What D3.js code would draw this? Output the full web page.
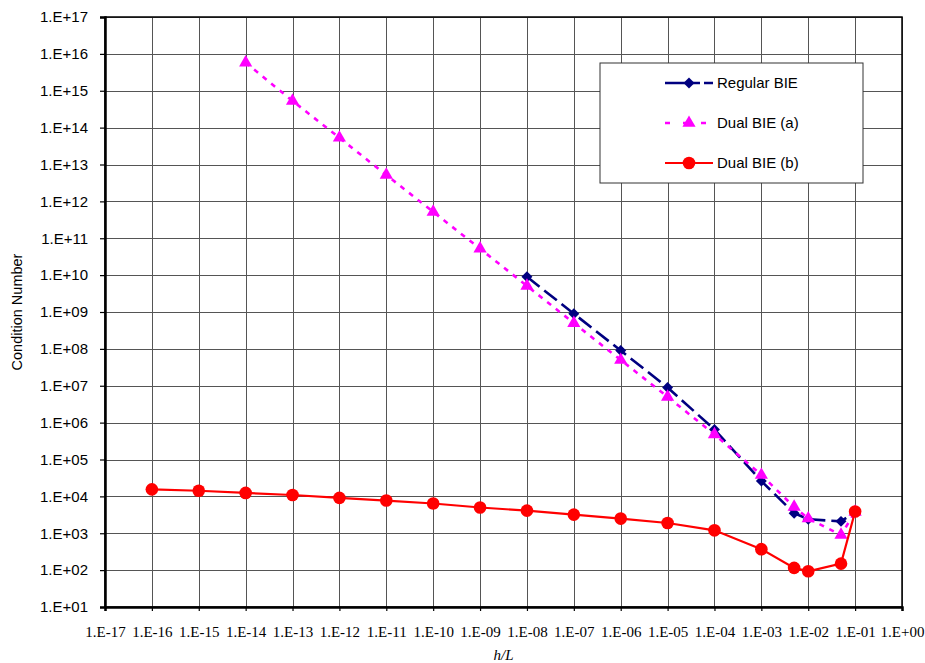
<!DOCTYPE html>
<html>
<head>
<meta charset="utf-8">
<script src="https://cdn.jsdelivr.net/npm/d3@7"></script>
<style>
  body { margin: 0; background: #fff; }
  .ylab { font-family: "Liberation Sans", Arial, sans-serif; font-size: 15px; }
  .xlab { font-family: "Liberation Serif", "Times New Roman", serif; font-size: 15px; }
  .legend text { font-family: "Liberation Sans", Arial, sans-serif; font-size: 15px; }
</style>
</head>
<body>
<div id="chart"></div>
<script>
// data
var regularX = [1e-8, 1e-7, 1e-6, 1e-5, 1e-4, 1e-3, 5e-3, 1e-2, 5e-2, 1e-1];
var regularY = [9e9, 9e8, 9e7, 9e6, 6.5e5, 2.6e4, 3.5e3, 2.4e3, 2.1e3, 3.8e3];

var dualAX = [1e-14, 1e-13, 1e-12, 1e-11, 1e-10, 1e-9, 1e-8, 1e-7, 1e-6, 1e-5, 1e-4, 1e-3, 5e-3, 1e-2, 5e-2, 1e-1];
var dualAY = [5.8e15, 5.3e14, 5.3e13, 5.2e12, 5.2e11, 5.2e10, 5.1e9, 5e8, 5e7, 5e6, 4.8e5, 3.8e4, 5.2e3, 2.5e3, 9e2, 3.8e3];

var dualBX = [1e-16, 1e-15, 1e-14, 1e-13, 1e-12, 1e-11, 1e-10, 1e-9, 1e-8, 1e-7, 1e-6, 1e-5, 1e-4, 1e-3, 5e-3, 1e-2, 5e-2, 1e-1];
var dualBY = [1.55e4, 1.42e4, 1.24e4, 1.09e4, 9.1e3, 7.7e3, 6.4e3, 5.0e3, 4.1e3, 3.2e3, 2.5e3, 1.9e3, 1.2e3, 370, 115, 93, 150, 3.9e3];

var xTickLabels = ["1.E-17","1.E-16","1.E-15","1.E-14","1.E-13","1.E-12","1.E-11","1.E-10","1.E-09",
                   "1.E-08","1.E-07","1.E-06","1.E-05","1.E-04","1.E-03","1.E-02","1.E-01","1.E+00"];
var yTickLabels = ["1.E+01","1.E+02","1.E+03","1.E+04","1.E+05","1.E+06","1.E+07","1.E+08","1.E+09",
                   "1.E+10","1.E+11","1.E+12","1.E+13","1.E+14","1.E+15","1.E+16","1.E+17"];
var seriesNames = ["Regular BIE", "Dual BIE (a)", "Dual BIE (b)"];

//
// setup
//
var margin = {top: 17, right: 23, bottom: 56, left: 105},
    W = 925, H = 663,
    width = W - margin.left - margin.right,
    height = H - margin.top - margin.bottom;

var xTicks = xTickLabels.map(function(d, i){ return Math.pow(10, i - 17); });
var yTicks = yTickLabels.map(function(d, i){ return Math.pow(10, i + 1); });

var x = d3.scaleLog().domain([1e-17, 1]).range([0, width]);
var y = d3.scaleLog().domain([1e1, 1e17]).range([height, 0]);

var svg = d3.select("#chart").append("svg")
    .attr("width", W).attr("height", H)
    .append("g")
    .attr("transform", "translate(" + margin.left + "," + margin.top + ")");

// grid
svg.append("g").selectAll("line.gx").data(xTicks).enter().append("line")
  .attr("x1", function(d){ return Math.round(x(d)) + 0.5; })
  .attr("x2", function(d){ return Math.round(x(d)) + 0.5; })
  .attr("y1", 0).attr("y2", height)
  .attr("stroke", "#555").attr("stroke-width", 1);
svg.append("g").selectAll("line.gy").data(yTicks).enter().append("line")
  .attr("y1", function(d){ return Math.round(y(d)) + 0.5; })
  .attr("y2", function(d){ return Math.round(y(d)) + 0.5; })
  .attr("x1", 0).attr("x2", width)
  .attr("stroke", "#555").attr("stroke-width", 1);

// frame
svg.append("rect").attr("width", width).attr("height", height)
  .attr("fill", "none").attr("stroke", "#000").attr("stroke-width", 1.5);

// axes
var xAxis = svg.append("g")
  .attr("transform", "translate(0," + height + ")")
  .call(d3.axisBottom(x).tickValues(xTicks)
        .tickFormat(function(d, i){ return xTickLabels[i]; })
        .tickSize(4).tickPadding(15));
xAxis.selectAll("text").attr("class", "xlab").attr("fill", "#000");

var yAxis = svg.append("g")
  .call(d3.axisLeft(y).tickValues(yTicks)
        .tickFormat(function(d, i){ return yTickLabels[i]; })
        .tickSize(5).tickPadding(12));
yAxis.selectAll("text").attr("class", "ylab").attr("fill", "#000");

svg.selectAll(".domain").attr("stroke", "#000").attr("stroke-width", 2.5);
svg.selectAll(".tick line").attr("stroke", "#000").attr("stroke-width", 1.2);

// titles
svg.append("text")
  .attr("x", width / 2).attr("y", height + 53)
  .attr("text-anchor", "middle")
  .style("font-family", "Liberation Serif, serif").style("font-style", "italic").style("font-size", "15px")
  .text("h/L");
svg.append("text")
  .attr("transform", "rotate(-90)")
  .attr("x", -height / 2).attr("y", -83)
  .attr("text-anchor", "middle")
  .style("font-family", "Liberation Sans, Arial, sans-serif").style("font-size", "14.5px")
  .text("Condition Number");

//
// series
//
var series = [
  {xs: regularX, ys: regularY, color: "#000080", dash: "16,6", width: 2.6, marker: "diamond"},
  {xs: dualAX, ys: dualAY, color: "#FF00FF", dash: "5,6", width: 2.6, marker: "triangle"},
  {xs: dualBX, ys: dualBY, color: "#FF0000", dash: null, width: 2.2, marker: "circle"}
];

var symbols = {
  diamond: d3.symbol().type(d3.symbolSquare).size(60),
  triangle: d3.symbol().type(d3.symbolTriangle).size(75),
  circle: d3.symbol().type(d3.symbolCircle).size(125)
};
var markerRot = {diamond: 45, triangle: 0, circle: 0};

var line = d3.line()
  .x(function(d){ return x(d[0]); })
  .y(function(d){ return y(d[1]); });

series.forEach(function(s){
  var pts = s.xs.map(function(v, i){ return [v, s.ys[i]]; });
  svg.append("path")
    .datum(pts)
    .attr("d", line)
    .attr("fill", "none")
    .attr("stroke", s.color)
    .attr("stroke-width", s.width)
    .attr("stroke-dasharray", s.dash);
  svg.append("g").selectAll("path").data(pts).enter().append("path")
    .attr("d", symbols[s.marker])
    .attr("transform", function(d){
      return "translate(" + x(d[0]) + "," + y(d[1]) + ") rotate(" + markerRot[s.marker] + ")";
    })
    .attr("fill", s.color);
});

//
// legend
//
var lg = svg.append("g").attr("class", "legend")
  .attr("transform", "translate(" + (600 - margin.left) + "," + (63 - margin.top) + ")");
lg.append("rect").attr("width", 263).attr("height", 120)
  .attr("fill", "#fff").attr("stroke", "#333").attr("stroke-width", 1);

series.forEach(function(s, i){
  var row = lg.append("g").attr("transform", "translate(0," + (20 + i * 40) + ")");
  row.append("line").attr("x1", 65).attr("x2", 113).attr("y1", 0).attr("y2", 0)
    .attr("stroke", s.color).attr("stroke-width", s.width)
    .attr("stroke-dasharray", s.dash ? (i === 0 ? "35,4,14" : "5,13") : null);
  row.append("path").attr("d", symbols[s.marker])
    .attr("transform", "translate(89,0) rotate(" + markerRot[s.marker] + ")").attr("fill", s.color);
  row.append("text").attr("x", 117).attr("y", 5).text(seriesNames[i]);
});
</script>
</body>
</html>
